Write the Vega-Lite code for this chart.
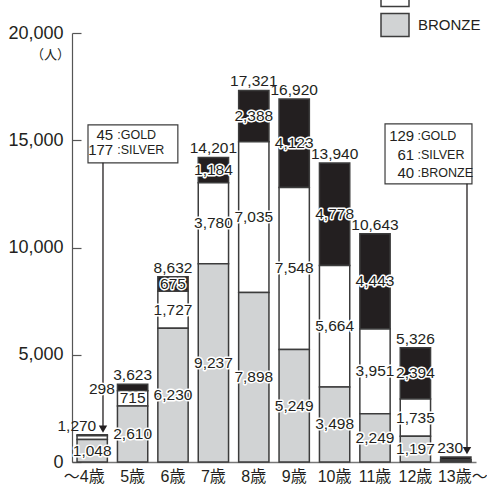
{
  "$schema": "https://vega.github.io/schema/vega-lite/v6.json",
  "width": 404,
  "height": 429,
  "autosize": {"type": "none"},
  "padding": {"left": 72, "top": 33, "right": 11, "bottom": 35},
  "background": "white",
  "config": {"font": "Liberation Sans, Noto Sans CJK JP", "view": {"stroke": null}, "numberFormat": ","},
  "datasets": {
    "medals": [
      {"age": "〜4歳", "medal": "GOLD", "count": 45},
      {"age": "〜4歳", "medal": "SILVER", "count": 177},
      {"age": "〜4歳", "medal": "BRONZE", "count": 1048},
      {"age": "5歳", "medal": "GOLD", "count": 298},
      {"age": "5歳", "medal": "SILVER", "count": 715},
      {"age": "5歳", "medal": "BRONZE", "count": 2610},
      {"age": "6歳", "medal": "GOLD", "count": 675},
      {"age": "6歳", "medal": "SILVER", "count": 1727},
      {"age": "6歳", "medal": "BRONZE", "count": 6230},
      {"age": "7歳", "medal": "GOLD", "count": 1184},
      {"age": "7歳", "medal": "SILVER", "count": 3780},
      {"age": "7歳", "medal": "BRONZE", "count": 9237},
      {"age": "8歳", "medal": "GOLD", "count": 2388},
      {"age": "8歳", "medal": "SILVER", "count": 7035},
      {"age": "8歳", "medal": "BRONZE", "count": 7898},
      {"age": "9歳", "medal": "GOLD", "count": 4123},
      {"age": "9歳", "medal": "SILVER", "count": 7548},
      {"age": "9歳", "medal": "BRONZE", "count": 5249},
      {"age": "10歳", "medal": "GOLD", "count": 4778},
      {"age": "10歳", "medal": "SILVER", "count": 5664},
      {"age": "10歳", "medal": "BRONZE", "count": 3498},
      {"age": "11歳", "medal": "GOLD", "count": 4443},
      {"age": "11歳", "medal": "SILVER", "count": 3951},
      {"age": "11歳", "medal": "BRONZE", "count": 2249},
      {"age": "12歳", "medal": "GOLD", "count": 2394},
      {"age": "12歳", "medal": "SILVER", "count": 1735},
      {"age": "12歳", "medal": "BRONZE", "count": 1197},
      {"age": "13歳〜", "medal": "GOLD", "count": 129},
      {"age": "13歳〜", "medal": "SILVER", "count": 61},
      {"age": "13歳〜", "medal": "BRONZE", "count": 40}
    ],
    "boxes": [
      {"x1": 0.396, "x2": 2.62, "y1": 15716, "y2": 13947},
      {"x1": 7.748, "x2": 9.9, "y1": 15763, "y2": 12969}
    ],
    "arrows": [
      {"pos": 0.767, "top": 13947, "tip": 1537},
      {"pos": 9.777, "top": 12969, "tip": 535}
    ],
    "notes": [
      {"pos": 1.02, "value": 15227, "text": "45", "role": "number"},
      {"pos": 1.02, "value": 14552, "text": "177", "role": "number"},
      {"pos": 1.12, "value": 15227, "text": ":GOLD", "role": "label"},
      {"pos": 1.12, "value": 14552, "text": ":SILVER", "role": "label"},
      {"pos": 8.47, "value": 15181, "text": "129", "role": "number"},
      {"pos": 8.47, "value": 14319, "text": "61", "role": "number"},
      {"pos": 8.47, "value": 13495, "text": "40", "role": "number"},
      {"pos": 8.55, "value": 15181, "text": ":GOLD", "role": "label"},
      {"pos": 8.55, "value": 14319, "text": ":SILVER", "role": "label"},
      {"pos": 8.55, "value": 13495, "text": ":BRONZE", "role": "label"},
      {"pos": 0.74, "value": 3423, "text": "298", "role": "value"},
      {"pos": 0.12, "value": 1270, "text": "1,270", "role": "total"},
      {"pos": 9.36, "value": 230, "text": "230", "role": "total"}
    ]
  },
  "layer": [
    {
      "data": {"name": "medals"},
      "transform": [
        {"calculate": "indexof(['BRONZE','SILVER','GOLD'], datum.medal)", "as": "rank"},
        {"stack": "count", "groupby": ["age"], "sort": [{"field": "rank", "order": "ascending"}], "as": ["y0", "y1"]},
        {"calculate": "(datum.y0 + datum.y1) / 2", "as": "mid"}
      ],
      "encoding": {
        "x": {
          "field": "age",
          "type": "nominal",
          "scale": {
            "domain": ["〜4歳", "5歳", "6歳", "7歳", "8歳", "9歳", "10歳", "11歳", "12歳", "13歳〜"],
            "paddingInner": 0.25,
            "paddingOuter": 0.125
          },
          "axis": {
            "title": null,
            "labelAngle": 0,
            "labelFontSize": 16,
            "labelColor": "#231f20",
            "ticks": false,
            "domainColor": "#777777",
            "domainWidth": 1.5,
            "labelPadding": 6,
            "labelOffset": {"expr": "datum.label === '〜4歳' ? -8 : datum.label === '13歳〜' ? 7 : 0"}
          }
        }
      },
      "layer": [
        {
          "mark": {"type": "bar", "stroke": "#3c3c3c", "strokeWidth": 1.5},
          "encoding": {
            "y": {
              "field": "y1",
              "type": "quantitative",
              "scale": {"domain": [0, 20000], "nice": false},
              "axis": {
                "values": [0, 5000, 10000, 15000, 20000],
                "format": ",",
                "labelExpr": "format(datum.value, ',')",
                "labelFontSize": 18,
                "labelColor": "#231f20",
                "grid": false,
                "domainColor": "#555555",
                "domainWidth": 1.2,
                "tickColor": "#555555",
                "tickWidth": 1.2,
                "tickSize": -9,
                "labelPadding": 18,
                "title": "（人）",
                "titleAngle": 0,
                "titleX": -22,
                "titleY": 21,
                "titleFontSize": 13,
                "titleFontWeight": "normal",
                "titleAlign": "center",
                "titleBaseline": "middle",
                "titleColor": "#231f20"
              }
            },
            "y2": {"field": "y0"},
            "fill": {
              "field": "medal",
              "type": "nominal",
              "scale": {"domain": ["GOLD", "SILVER", "BRONZE"], "range": ["#231f20", "#ffffff", "#d1d3d4"]},
              "legend": {
                "orient": "none",
                "legendX": 308,
                "legendY": -83,
                "title": null,
                "padding": 0,
                "rowPadding": 0,
                "symbolType": "M-1,-0.82H1V0.82H-1Z",
                "symbolSize": 784,
                "symbolStrokeColor": "#3c3c3c",
                "symbolStrokeWidth": 1.5,
                "symbolOpacity": 1,
                "labelFontSize": 15,
                "labelColor": "#231f20",
                "labelOffset": 8
              }
            }
          }
        },
        {
          "transform": [{"filter": "datum.count >= 600"}],
          "mark": {"type": "text", "fontSize": 15.5, "fill": "white", "stroke": "white", "strokeWidth": 3, "strokeJoin": "round", "baseline": "middle"},
          "encoding": {
            "y": {"field": "mid", "type": "quantitative", "scale": {"domain": [0, 20000], "nice": false}},
            "text": {"field": "count", "type": "quantitative", "format": ","}
          }
        },
        {
          "transform": [{"filter": "datum.count >= 600"}],
          "mark": {"type": "text", "fontSize": 15.5, "fill": "#231f20", "baseline": "middle"},
          "encoding": {
            "y": {"field": "mid", "type": "quantitative", "scale": {"domain": [0, 20000], "nice": false}},
            "text": {"field": "count", "type": "quantitative", "format": ","}
          }
        },
        {
          "transform": [
            {"aggregate": [{"op": "sum", "field": "count", "as": "total"}], "groupby": ["age"]},
            {"filter": "datum.age !== '〜4歳' && datum.age !== '13歳〜'"}
          ],
          "mark": {"type": "text", "fontSize": 15.5, "fill": "#231f20", "baseline": "alphabetic", "dy": -4},
          "encoding": {
            "y": {"field": "total", "type": "quantitative", "scale": {"domain": [0, 20000], "nice": false}},
            "text": {"field": "total", "type": "quantitative", "format": ","}
          }
        }
      ]
    },
    {
      "layer": [
        {
          "data": {"name": "boxes"},
          "mark": {"type": "rect", "fill": "white", "stroke": "#3c3c3c", "strokeWidth": 1.2},
          "encoding": {
            "x": {"field": "x1", "type": "quantitative", "scale": {"domain": [0, 10], "nice": false, "zero": false}, "axis": null},
            "x2": {"field": "x2"},
            "y": {"field": "y1", "type": "quantitative", "scale": {"domain": [0, 20000], "nice": false}},
            "y2": {"field": "y2"}
          }
        },
        {
          "data": {"name": "arrows"},
          "mark": {"type": "rule", "stroke": "#231f20", "strokeWidth": 1.3},
          "encoding": {
            "x": {"field": "pos", "type": "quantitative", "scale": {"domain": [0, 10], "nice": false, "zero": false}, "axis": null},
            "y": {"field": "top", "type": "quantitative", "scale": {"domain": [0, 20000], "nice": false}},
            "y2": {"field": "tip"}
          }
        },
        {
          "data": {"name": "arrows"},
          "mark": {"type": "point", "shape": "triangle-down", "filled": true, "size": 70, "color": "#231f20", "opacity": 1},
          "encoding": {
            "x": {"field": "pos", "type": "quantitative", "scale": {"domain": [0, 10], "nice": false, "zero": false}, "axis": null},
            "y": {"field": "tip", "type": "quantitative", "scale": {"domain": [0, 20000], "nice": false}}
          }
        },
        {
          "data": {"name": "notes"},
          "transform": [{"filter": "datum.role === 'number'"}],
          "mark": {"type": "text", "fontSize": 15, "fill": "#231f20", "align": "right", "baseline": "middle"},
          "encoding": {
            "x": {"field": "pos", "type": "quantitative", "scale": {"domain": [0, 10], "nice": false, "zero": false}, "axis": null},
            "y": {"field": "value", "type": "quantitative", "scale": {"domain": [0, 20000], "nice": false}},
            "text": {"field": "text"}
          }
        },
        {
          "data": {"name": "notes"},
          "transform": [{"filter": "datum.role === 'label'"}],
          "mark": {"type": "text", "fontSize": 12.5, "fill": "#231f20", "align": "left", "baseline": "middle"},
          "encoding": {
            "x": {"field": "pos", "type": "quantitative", "scale": {"domain": [0, 10], "nice": false, "zero": false}, "axis": null},
            "y": {"field": "value", "type": "quantitative", "scale": {"domain": [0, 20000], "nice": false}},
            "text": {"field": "text"}
          }
        },
        {
          "data": {"name": "notes"},
          "transform": [{"filter": "datum.role === 'value'"}],
          "mark": {"type": "text", "fontSize": 15.5, "fill": "white", "stroke": "white", "strokeWidth": 3, "strokeJoin": "round", "baseline": "middle"},
          "encoding": {
            "x": {"field": "pos", "type": "quantitative", "scale": {"domain": [0, 10], "nice": false, "zero": false}, "axis": null},
            "y": {"field": "value", "type": "quantitative", "scale": {"domain": [0, 20000], "nice": false}},
            "text": {"field": "text"}
          }
        },
        {
          "data": {"name": "notes"},
          "transform": [{"filter": "datum.role === 'value'"}],
          "mark": {"type": "text", "fontSize": 15.5, "fill": "#231f20", "baseline": "middle"},
          "encoding": {
            "x": {"field": "pos", "type": "quantitative", "scale": {"domain": [0, 10], "nice": false, "zero": false}, "axis": null},
            "y": {"field": "value", "type": "quantitative", "scale": {"domain": [0, 20000], "nice": false}},
            "text": {"field": "text"}
          }
        },
        {
          "data": {"name": "notes"},
          "transform": [{"filter": "datum.role === 'total'"}],
          "mark": {"type": "text", "fontSize": 15.5, "fill": "#231f20", "baseline": "alphabetic", "dy": -4},
          "encoding": {
            "x": {"field": "pos", "type": "quantitative", "scale": {"domain": [0, 10], "nice": false, "zero": false}, "axis": null},
            "y": {"field": "value", "type": "quantitative", "scale": {"domain": [0, 20000], "nice": false}},
            "text": {"field": "text"}
          }
        }
      ]
    }
  ],
  "resolve": {"scale": {"x": "independent"}}
}
